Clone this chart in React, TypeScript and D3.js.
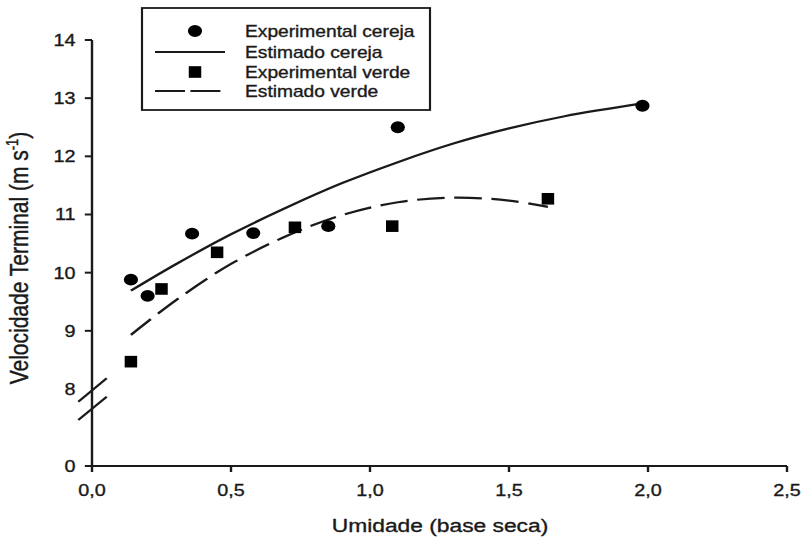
import React from 'react';
import * as d3 from 'd3';

// Experimental points
const cerejaX = [0.14, 0.2, 0.36, 0.58, 0.85, 1.1, 1.98];
const cerejaY = [9.88, 9.6, 10.67, 10.68, 10.8, 12.5, 12.87];
const verdeX = [0.14, 0.25, 0.45, 0.73, 1.08, 1.64];
const verdeY = [8.47, 9.72, 10.35, 10.78, 10.8, 11.27];
// Estimated curves
const estCerejaX = [0.14, 0.3, 0.5, 0.7, 0.9, 1.1, 1.3, 1.5, 1.7, 1.98];
const estCerejaY = [9.69, 10.14, 10.66, 11.12, 11.54, 11.9, 12.22, 12.48, 12.69, 12.91];
const estVerdeX = [0.14, 0.3, 0.5, 0.7, 0.9, 1.1, 1.3, 1.5, 1.64];
const estVerdeY = [8.93, 9.52, 10.15, 10.63, 10.99, 11.21, 11.29, 11.24, 11.13];
// Ticks
const xTicks = [0, 0.5, 1.0, 1.5, 2.0, 2.5];
const yTicksUpper = [9, 10, 11, 12, 13, 14];
const yLabelsUpper = [8, 9, 10, 11, 12, 13, 14];
const yTicksLower = [0];
const legendLabels = ['Experimental cereja', 'Estimado cereja', 'Experimental verde', 'Estimado verde'];
const xTitle = 'Umidade (base seca)';

const SX = 1.2; // horizontal stretch of the reference picture
const VW = 804 / SX;
const FONT = '"Liberation Sans", Arial, sans-serif';
const INK = '#1a1a1a';
const TXT = { fill: INK, stroke: INK, strokeWidth: 0.35 };

export default function App() {
  const x = d3.scaleLinear().domain([0, 2.5]).range([92 / SX, 787 / SX]);
  const yU = d3.scaleLinear().domain([8, 14]).range([389, 40]);
  const yL = d3.scaleLinear().domain([0, 1]).range([466, 446]);
  const x0 = x(0);
  const yBottom = yL(0);

  const line = d3
    .line<[number, number]>()
    .x((d) => x(d[0]))
    .y((d) => yU(d[1]))
    .curve(d3.curveCatmullRom.alpha(0.5));

  const cerejaLine = line(estCerejaX.map((v, i) => [v, estCerejaY[i]]) as [number, number][]) || '';
  const verdeLine = line(estVerdeX.map((v, i) => [v, estVerdeY[i]]) as [number, number][]) || '';

  const lgLeft = 142 / SX;
  const lgRight = 430 / SX;
  const lgTop = 8;
  const lgBottom = 110;
  const rows = [31, 52, 72, 91];
  const mkX = 195 / SX;
  const lnX1 = 155 / SX;
  const lnX2 = 225 / SX;
  const txX = 245 / SX;

  return (
    <svg
      width={804}
      height={537}
      viewBox={`0 0 ${VW} 537`}
      preserveAspectRatio="none"
      style={{ position: 'absolute', left: 0, top: 0, background: '#fff' }}
      fontFamily={FONT}
    >
      <rect x={0} y={0} width={VW} height={537} fill="#fff" />
      {/* axes */}
      <line x1={x0} x2={x0} y1={yU(14)} y2={yBottom} stroke={INK} strokeWidth={2} />
      <line x1={x0} x2={x(2.5)} y1={yBottom} y2={yBottom} stroke={INK} strokeWidth={2.2} />
      {/* break marks */}
      <line x1={78.3 / SX} y1={401.7} x2={106.7 / SX} y2={378.3} stroke={INK} strokeWidth={2} />
      <line x1={78.3 / SX} y1={420} x2={106.7 / SX} y2={396.7} stroke={INK} strokeWidth={2} />
      {/* y ticks */}
      {yTicksUpper.map((t) => (
        <line key={'yt' + t} x1={x0 - 6} x2={x0} y1={yU(t)} y2={yU(t)} stroke={INK} strokeWidth={2} />
      ))}
      {yTicksLower.map((t) => (
        <line key={'ytl' + t} x1={x0 - 6} x2={x0} y1={yL(t)} y2={yL(t)} stroke={INK} strokeWidth={2} />
      ))}
      {yLabelsUpper.map((t) => (
        <text key={'yl' + t} x={63} y={yU(t) + 6} textAnchor="end" fontSize={16.5} {...TXT}>
          {t}
        </text>
      ))}
      {yTicksLower.map((t) => (
        <text key={'yll' + t} x={63} y={yL(t) + 6} textAnchor="end" fontSize={16.5} {...TXT}>
          {t}
        </text>
      ))}
      {/* x ticks */}
      {xTicks.map((t) => (
        <g key={'xt' + t}>
          <line x1={x(t)} x2={x(t)} y1={yBottom} y2={yBottom + 6} stroke={INK} strokeWidth={2} />
          <text x={x(t)} y={496} textAnchor="middle" fontSize={16.5} {...TXT}>
            {t.toFixed(1).replace('.', ',')}
          </text>
        </g>
      ))}
      {/* axis titles */}
      <text x={440 / SX} y={532} textAnchor="middle" fontSize={19} {...TXT}>
        {xTitle}
      </text>
      <text
        transform={`translate(${28 / SX},258) rotate(-90)`}
        textAnchor="middle"
        fontSize={21}
        {...TXT}
      >
        Velocidade Terminal (m s
        <tspan dy={-8} fontSize={13}>-1</tspan>
        <tspan dy={8}>)</tspan>
      </text>
      {/* curves */}
      <path d={cerejaLine} fill="none" stroke={INK} strokeWidth={2.2} />
      <path d={verdeLine} fill="none" stroke={INK} strokeWidth={2.2} strokeDasharray="23,8" />
      {/* points */}
      {cerejaX.map((v, i) => (
        <circle key={'c' + i} cx={x(v)} cy={yU(cerejaY[i])} r={5.9} fill="#000" />
      ))}
      {verdeX.map((v, i) => (
        <rect
          key={'s' + i}
          x={x(v) - 5.2}
          y={yU(verdeY[i]) - 5.8}
          width={10.4}
          height={11.6}
          fill="#000"
        />
      ))}
      {/* legend */}
      <rect
        x={lgLeft}
        y={lgTop}
        width={lgRight - lgLeft}
        height={lgBottom - lgTop}
        fill="#fff"
        stroke={INK}
        strokeWidth={1.8}
      />
      <circle cx={mkX} cy={rows[0]} r={5.9} fill="#000" />
      <line x1={lnX1} x2={lnX2} y1={rows[1]} y2={rows[1]} stroke={INK} strokeWidth={2.2} />
      <rect x={mkX - 5.2} y={rows[2] - 5.8} width={10.4} height={11.6} fill="#000" />
      <line x1={lnX1} x2={lnX2} y1={rows[3]} y2={rows[3]} stroke={INK} strokeWidth={2.2} strokeDasharray="25,4.5" />
      {legendLabels.map((l, i) => (
        <text key={l} x={txX} y={rows[i] + 6} fontSize={16} {...TXT}>
          {l}
        </text>
      ))}
    </svg>
  );
}
